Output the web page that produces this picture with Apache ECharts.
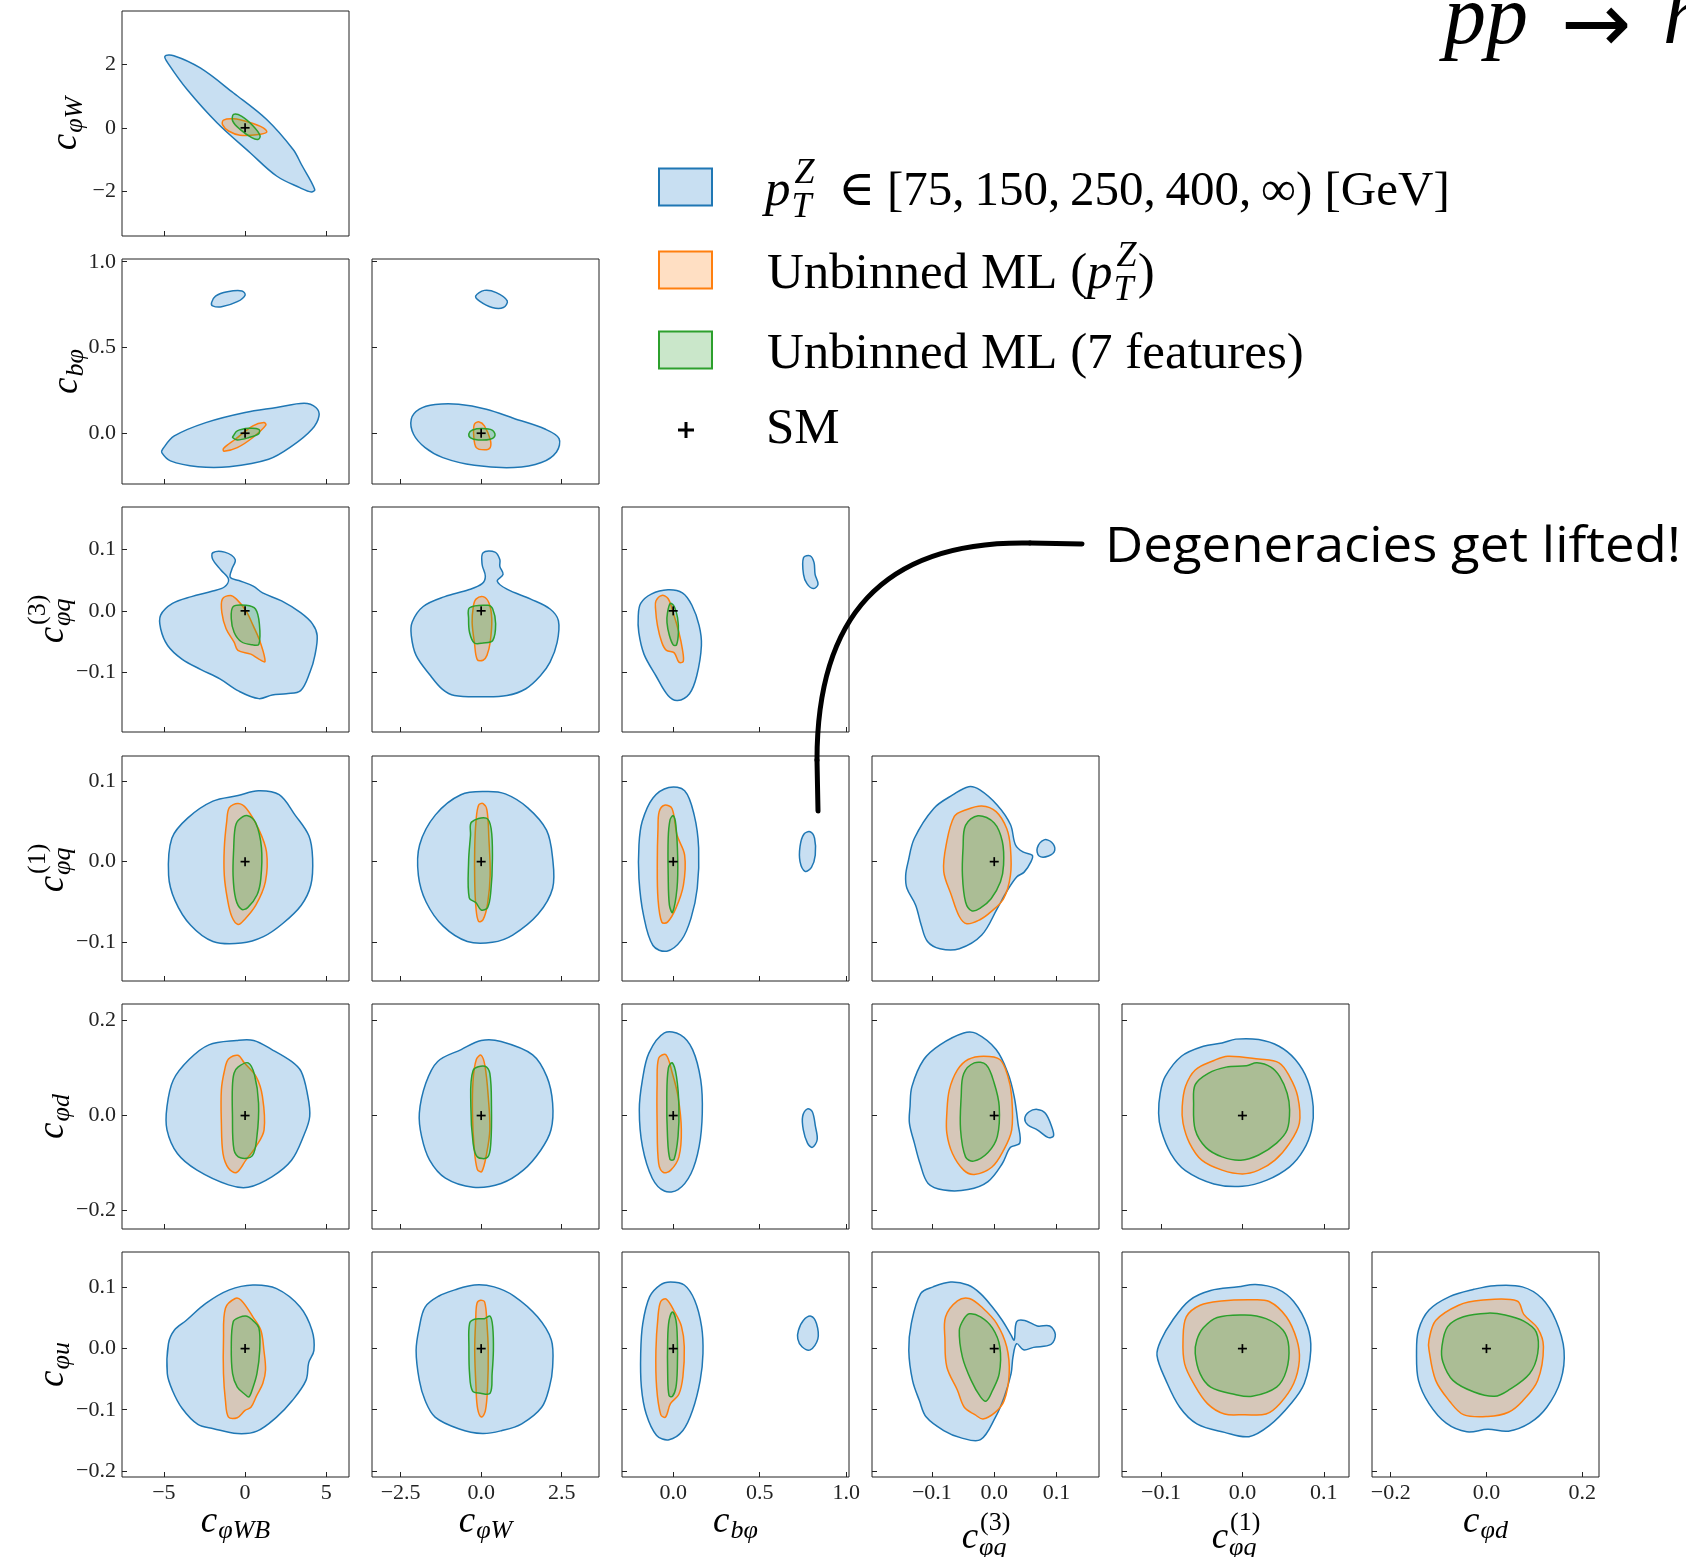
<!DOCTYPE html>
<html>
<head>
<meta charset="utf-8">
<script src="https://cdn.jsdelivr.net/npm/echarts@6/dist/echarts.min.js"></script>
<style>
html, body { margin: 0; padding: 0; background: #fff; }
#chart { width: 1686px; height: 1557px; }
</style>
</head>
<body>
<div id="chart"></div>
<script>
// ---- Wilson coefficients on the axes (columns = x, rows = y) ----
const COL_SUBS = [['φWB', ''], ['φW', ''], ['bφ', ''], ['φq', '(3)'], ['φq', '(1)'], ['φd', '']];
const ROW_SUBS = [['φW', ''], ['bφ', ''], ['φq', '(3)'], ['φq', '(1)'], ['φd', ''], ['φu', '']];

const COL_RANGES = [[-7.58, 6.4], [-3.39, 3.66], [-0.296, 1.016], [-0.196, 0.168], [-0.148, 0.131], [-0.239, 0.235]];
const ROW_RANGES = [[-3.39, 3.66], [-0.296, 1.016], [-0.196, 0.168], [-0.148, 0.131], [-0.239, 0.235], [-0.21, 0.158]];
const COL_TICKS = [[-5, 0, 5], [-2.5, 0, 2.5], [0, 0.5, 1], [-0.1, 0, 0.1], [-0.1, 0, 0.1], [-0.2, 0, 0.2]];
const ROW_TICKS = [[-2, 0, 2], [0, 0.5, 1], [-0.1, 0, 0.1], [-0.1, 0, 0.1], [-0.2, 0, 0.2], [-0.2, -0.1, 0, 0.1]];
const COL_DECIMALS = [0, 1, 1, 1, 1, 1];
const ROW_DECIMALS = [0, 1, 1, 1, 1, 1];

// Standard Model point
const SM_POINT = [0, 0];

// ---- 95% CL contours, one object per pair (x_y); each entry is a list of closed rings ----
const WB_W = {
  blue: [[[-4.94,2.24],[-4.39,2.26],[-2.76,1.875],[-0.71,1.09],[1.33,0.26],[2.96,-0.68],[3.47,-1.15],[4.29,-1.93],[4.08,-2.01],[3.37,-1.875],[1.94,-1.51],[0.31,-0.78],[-1.73,0.16],[-3.57,1.2],[-4.69,1.98]]],
  orange: [[[-1.33,0.24],[-0.71,0.28],[0.2,0.18],[1.12,0],[1.33,-0.14],[0.71,-0.22],[-0.31,-0.23],[-1.02,-0.1],[-1.39,0.1]]],
  green: [[[-0.71,0.42],[-0.2,0.36],[0.51,0.05],[0.92,-0.24],[0.82,-0.36],[0.41,-0.31],[-0.31,-0.05],[-0.76,0.21]]]
};
const WB_B = {
  blue: [[[-5.13,-0.113],[-5.08,-0.093],[-4.36,-0.016],[-2.42,0.062],[0,0.121],[1.94,0.15],[3.63,0.175],[4.36,0.15],[4.55,0.10],[4.12,0.023],[2.9,-0.074],[1.45,-0.152],[-0.97,-0.195],[-2.9,-0.195],[-4.6,-0.161]],
         [[-2.06,0.763],[-1.82,0.80],[-1.09,0.825],[-0.19,0.83],[0,0.805],[-0.48,0.767],[-1.45,0.737],[-2.0,0.743]]],
  orange: [[[-1.33,-0.089],[-0.6,-0.035],[0.48,0.043],[1.16,0.062],[1.28,0.047],[0.48,-0.025],[-0.48,-0.084],[-1.3,-0.105]]],
  green: [[[-0.73,-0.016],[-0.48,0.014],[0.24,0.029],[0.85,0.023],[0.85,-0.002],[0.24,-0.025],[-0.48,-0.039],[-0.77,-0.025]]]
};
const W_B = {
  blue: [[[-2.17,0.082],[-1.92,0.14],[-1.43,0.167],[-0.70,0.169],[0.16,0.14],[1.02,0.086],[2.0,0.023],[2.42,-0.031],[2.34,-0.109],[1.87,-0.171],[1.02,-0.2],[-0.21,-0.187],[-1.19,-0.142],[-1.74,-0.084],[-2.1,-0.006]],
         [[-0.17,0.80],[0.1,0.833],[0.47,0.82],[0.81,0.772],[0.69,0.733],[0.34,0.733],[-0.05,0.77]]],
  orange: [[[-0.21,0.053],[-0.06,0.066],[0.1,0.043],[0.28,-0.035],[0.28,-0.084],[0.1,-0.097],[-0.15,-0.084],[-0.23,-0.016]]],
  green: [[[-0.38,-0.002],[-0.27,0.019],[0.04,0.027],[0.34,0.018],[0.43,-0.012],[0.28,-0.035],[-0.09,-0.039],[-0.33,-0.027]]]
};
const WB_Q3 = {
  blue: [[[-1.99,0.094],[-1.26,0.095],[-0.61,0.083],[-0.82,0.067],[-0.91,0.054],[-0.38,0.049],[0.5,0.040],[1.08,0.029],[2.25,0.016],[3.42,-0.003],[4.15,-0.021],[4.44,-0.040],[4.3,-0.072],[4.0,-0.099],[3.42,-0.129],[2.54,-0.134],[1.67,-0.136],[0.85,-0.142],[-0.38,-0.130],[-1.55,-0.110],[-2.72,-0.095],[-3.89,-0.078],[-4.77,-0.056],[-5.2,-0.029],[-5.2,-0.007],[-4.47,0.012],[-3.3,0.023],[-1.99,0.032],[-1.26,0.039],[-1.02,0.051],[-1.49,0.066],[-1.99,0.083]]],
  orange: [[[-1.4,0.019],[-0.91,0.025],[-0.53,0.019],[0.06,0],[0.5,-0.024],[0.94,-0.051],[1.23,-0.082],[0.85,-0.078],[0.35,-0.070],[-0.44,-0.064],[-0.67,-0.051],[-1.17,-0.029],[-1.43,-0.003]]],
  green: [[[-0.73,0.007],[0.06,0.009],[0.64,0.003],[0.88,-0.021],[0.85,-0.054],[0.44,-0.055],[-0.23,-0.050],[-0.67,-0.035],[-0.85,-0.013]]]
};
const W_Q3 = {
  blue: [[[0.06,0.094],[0.43,0.095],[0.58,0.083],[0.58,0.072],[0.68,0.059],[0.5,0.048],[0.8,0.035],[1.54,0.019],[2.14,0.003],[2.4,-0.016],[2.36,-0.051],[2.14,-0.083],[1.84,-0.105],[1.39,-0.126],[0.8,-0.137],[0.06,-0.139],[-0.83,-0.137],[-1.2,-0.127],[-1.57,-0.105],[-2.02,-0.072],[-2.17,-0.040],[-2.14,-0.018],[-1.8,0.007],[-1.13,0.023],[-0.39,0.034],[0.03,0.044],[0.13,0.056],[0.03,0.075]]],
  orange: [[[-0.16,0.019],[0.06,0.023],[0.24,0.013],[0.33,-0.013],[0.28,-0.051],[0.18,-0.072],[0.06,-0.080],[-0.12,-0.079],[-0.21,-0.051],[-0.28,-0.019],[-0.24,0.008]]],
  green: [[[-0.36,0.005],[0.21,0.009],[0.36,0.003],[0.45,-0.021],[0.36,-0.048],[0.06,-0.052],[-0.21,-0.052],[-0.36,-0.035],[-0.39,-0.013]]]
};
const B_Q3 = {
  blue: [[[-0.202,-0.008],[-0.188,0.012],[-0.127,0.027],[-0.030,0.034],[0.053,0.029],[0.108,0.009],[0.150,-0.024],[0.163,-0.056],[0.136,-0.105],[0.094,-0.134],[0.025,-0.145],[-0.030,-0.137],[-0.100,-0.105],[-0.169,-0.070],[-0.199,-0.035]],
         [[0.753,0.086],[0.792,0.089],[0.814,0.078],[0.820,0.059],[0.837,0.043],[0.809,0.036],[0.773,0.044],[0.753,0.059]]],
  orange: [[[-0.100,0.016],[-0.066,0.025],[-0.030,0.020],[0,-0.003],[0.033,-0.035],[0.053,-0.062],[0.058,-0.082],[0.033,-0.083],[0.006,-0.068],[-0.039,-0.064],[-0.066,-0.051],[-0.091,-0.024],[-0.102,0.003]]],
  green: [[[-0.033,-0.003],[-0.017,0.012],[0.006,0.007],[0.025,-0.011],[0.030,-0.035],[0.019,-0.055],[0,-0.055],[-0.022,-0.040],[-0.036,-0.019]]]
};
const WB_Q1 = {
  blue: [[[-4.71,-0.017],[-4.51,0.029],[-3.54,0.054],[-1.98,0.075],[-0.43,0.082],[0.82,0.088],[2.1,0.083],[3.07,0.058],[3.93,0.032],[4.16,0.004],[4.05,-0.029],[3.46,-0.054],[2.3,-0.077],[1.13,-0.093],[-0.23,-0.101],[-1.98,-0.099],[-3.35,-0.079],[-4.32,-0.048]]],
  orange: [[[-1.13,0.050],[-0.97,0.067],[-0.43,0.072],[0.08,0.066],[0.82,0.041],[1.32,0.012],[1.25,-0.025],[0.66,-0.054],[-0.04,-0.072],[-0.43,-0.078],[-0.82,-0.068],[-1.09,-0.046],[-1.28,-0.017],[-1.28,0.017]]],
  green: [[[-0.62,0.041],[-0.43,0.051],[0.16,0.057],[0.66,0.048],[1.01,0.017],[0.97,-0.021],[0.74,-0.041],[0.16,-0.057],[-0.23,-0.059],[-0.58,-0.046],[-0.74,-0.017],[-0.7,0.017]]]
};
const W_Q1 = {
  blue: [[[-1.95,-0.017],[-1.91,0.021],[-1.42,0.058],[-0.63,0.083],[0.16,0.087],[0.75,0.084],[1.44,0.067],[2.03,0.039],[2.22,0.004],[2.22,-0.033],[1.77,-0.065],[0.98,-0.091],[0.35,-0.100],[-0.43,-0.099],[-1.18,-0.080],[-1.71,-0.050]]],
  orange: [[[-0.16,0.050],[-0.08,0.070],[0.06,0.072],[0.18,0.064],[0.24,0.029],[0.28,-0.017],[0.2,-0.052],[0.06,-0.072],[-0.08,-0.074],[-0.16,-0.058],[-0.2,-0.025],[-0.2,0.017]]],
  green: [[[-0.3,0.049],[0.16,0.054],[0.31,0.041],[0.35,0.004],[0.3,-0.037],[0.2,-0.057],[0,-0.060],[-0.16,-0.051],[-0.37,-0.045],[-0.39,0],[-0.33,0.033]]]
};
const B_Q1 = {
  blue: [[[-0.198,0.021],[-0.179,0.050],[-0.117,0.079],[-0.026,0.092],[0.066,0.088],[0.121,0.058],[0.147,0.017],[0.139,-0.033],[0.103,-0.070],[0.048,-0.097],[-0.037,-0.111],[-0.117,-0.104],[-0.172,-0.066],[-0.198,-0.021]],
         [[0.733,0.019],[0.755,0.034],[0.791,0.037],[0.817,0.029],[0.821,0.008],[0.799,-0.007],[0.762,-0.012],[0.733,0]]],
  orange: [[[-0.081,0.062],[-0.051,0.070],[-0.007,0.066],[0.022,0.033],[0.066,0.008],[0.059,-0.029],[0.015,-0.058],[-0.033,-0.075],[-0.066,-0.075],[-0.088,-0.046],[-0.092,0],[-0.088,0.041]]],
  green: [[[-0.018,0.052],[0,0.057],[0.015,0.046],[0.026,0.004],[0.022,-0.033],[-0.004,-0.063],[-0.022,-0.054],[-0.029,-0.017],[-0.029,0.029]]]
};
const Q3_Q1 = {
  blue: [[[-0.142,-0.017],[-0.138,0],[-0.128,0.029],[-0.097,0.066],[-0.066,0.083],[-0.041,0.093],[-0.023,0.089],[0.005,0.070],[0.026,0.046],[0.034,0.021],[0.046,0.012],[0.061,0.008],[0.059,0],[0.048,-0.013],[0.036,-0.019],[0.020,-0.037],[0.005,-0.058],[-0.020,-0.091],[-0.056,-0.108],[-0.087,-0.108],[-0.107,-0.099],[-0.117,-0.079],[-0.126,-0.054],[-0.140,-0.033]],
         [[0.069,0.017],[0.080,0.027],[0.092,0.024],[0.097,0.014],[0.087,0.007],[0.072,0.007]]],
  orange: [[[-0.081,-0.012],[-0.077,0.021],[-0.064,0.056],[-0.046,0.064],[-0.020,0.069],[0.003,0.062],[0.020,0.041],[0.026,0.017],[0.026,-0.017],[0.015,-0.046],[-0.005,-0.062],[-0.023,-0.072],[-0.044,-0.077],[-0.056,-0.068],[-0.069,-0.041]]],
  green: [[[-0.050,0.017],[-0.046,0.045],[-0.026,0.057],[0,0.048],[0.013,0.025],[0.015,-0.004],[0.010,-0.025],[-0.005,-0.046],[-0.023,-0.058],[-0.036,-0.061],[-0.046,-0.050],[-0.051,-0.017]]]
};
const WB_D = {
  blue: [[[-4.81,0.019],[-4.42,0.075],[-3.45,0.118],[-2.23,0.149],[-0.53,0.158],[0.53,0.158],[1.65,0.139],[2.86,0.114],[3.45,0.093],[3.83,0.047],[3.98,-0.002],[3.59,-0.044],[2.86,-0.094],[1.65,-0.129],[0.19,-0.151],[-1.02,-0.146],[-2.96,-0.115],[-4.17,-0.080],[-4.81,-0.030]]],
  orange: [[[-1.26,0.096],[-1.02,0.119],[-0.44,0.127],[-0.05,0.111],[0.68,0.082],[1.07,0.040],[1.17,-0.030],[0.68,-0.065],[0.05,-0.094],[-0.53,-0.120],[-1.02,-0.111],[-1.36,-0.080],[-1.46,-0.016],[-1.46,0.054]]],
  green: [[[-0.68,0.089],[-0.44,0.102],[0.19,0.111],[0.58,0.086],[0.83,0.026],[0.73,-0.044],[0.44,-0.085],[-0.29,-0.089],[-0.68,-0.073],[-0.78,0.005],[-0.78,0.061]]]
};
const W_D = {
  blue: [[[-1.92,0.005],[-1.72,0.068],[-1.35,0.114],[-0.62,0.139],[0,0.158],[0.62,0.156],[1.6,0.128],[2.04,0.082],[2.22,0.026],[2.17,-0.030],[1.85,-0.073],[1.31,-0.115],[0.62,-0.143],[-0.25,-0.151],[-1.11,-0.132],[-1.6,-0.094],[-1.85,-0.044]]],
  orange: [[[-0.15,0.118],[0,0.127],[0.12,0.104],[0.22,0.040],[0.27,-0.030],[0.17,-0.080],[0.02,-0.118],[-0.12,-0.113],[-0.22,-0.065],[-0.27,0.005],[-0.25,0.075]]],
  green: [[[-0.25,0.095],[0.12,0.104],[0.27,0.089],[0.32,0.019],[0.3,-0.058],[0.2,-0.088],[-0.12,-0.087],[-0.25,-0.058],[-0.32,0.019]]]
};
const B_D = {
  blue: [[[-0.196,0.012],[-0.178,0.075],[-0.140,0.132],[-0.051,0.174],[0.042,0.170],[0.112,0.139],[0.159,0.075],[0.168,0.005],[0.150,-0.065],[0.103,-0.122],[0.028,-0.156],[-0.051,-0.159],[-0.121,-0.132],[-0.178,-0.065]],
         [[0.748,-0.002],[0.776,0.014],[0.804,0.008],[0.822,-0.023],[0.832,-0.051],[0.804,-0.067],[0.776,-0.058],[0.752,-0.030]]],
  orange: [[[-0.084,0.121],[-0.042,0.128],[-0.005,0.089],[0.028,0.040],[0.047,-0.030],[0.033,-0.087],[-0.014,-0.115],[-0.056,-0.120],[-0.084,-0.101],[-0.093,-0.016],[-0.093,0.068]]],
  green: [[[-0.028,0.100],[-0.005,0.111],[0.019,0.082],[0.033,0.019],[0.028,-0.044],[0.005,-0.092],[-0.019,-0.092],[-0.033,-0.044],[-0.037,0.040]]]
};
const Q3_D = {
  blue: [[[-0.136,-0.016],[-0.135,0.019],[-0.132,0.061],[-0.113,0.118],[-0.087,0.149],[-0.049,0.174],[-0.029,0.173],[0.003,0.139],[0.022,0.089],[0.032,0.040],[0.038,-0.016],[0.041,-0.058],[0.026,-0.067],[0.013,-0.101],[-0.010,-0.139],[-0.042,-0.156],[-0.081,-0.157],[-0.106,-0.143],[-0.119,-0.101],[-0.128,-0.058]],
         [[0.049,-0.006],[0.056,0.008],[0.069,0.013],[0.082,0.005],[0.092,-0.023],[0.095,-0.043],[0.086,-0.046],[0.069,-0.030],[0.054,-0.020]]],
  orange: [[[-0.076,0.005],[-0.072,0.054],[-0.059,0.096],[-0.042,0.118],[-0.017,0.125],[0.009,0.118],[0.022,0.082],[0.028,0.040],[0.028,-0.030],[0.015,-0.073],[-0.004,-0.109],[-0.032,-0.124],[-0.049,-0.115],[-0.067,-0.080],[-0.076,-0.037]]],
  green: [[[-0.053,0.040],[-0.049,0.088],[-0.032,0.111],[-0.013,0.107],[0,0.068],[0.008,0.019],[0.005,-0.044],[-0.010,-0.078],[-0.033,-0.096],[-0.046,-0.087],[-0.054,-0.030]]]
};
const Q1_D = {
  blue: [[[-0.103,0.005],[-0.101,0.047],[-0.095,0.082],[-0.075,0.125],[-0.048,0.146],[-0.025,0.153],[-0.008,0.161],[0.020,0.160],[0.045,0.146],[0.065,0.118],[0.080,0.075],[0.087,0.019],[0.085,-0.030],[0.075,-0.073],[0.058,-0.108],[0.030,-0.136],[0,-0.149],[-0.035,-0.144],[-0.070,-0.116],[-0.088,-0.080],[-0.100,-0.030]]],
  orange: [[[-0.074,0.019],[-0.070,0.061],[-0.058,0.096],[-0.035,0.116],[-0.018,0.125],[0.020,0.119],[0.045,0.111],[0.058,0.082],[0.068,0.040],[0.070,-0.016],[0.058,-0.058],[0.040,-0.094],[0.020,-0.115],[0,-0.123],[-0.025,-0.115],[-0.050,-0.094],[-0.065,-0.058],[-0.073,-0.016]]],
  green: [[[-0.060,0.026],[-0.058,0.065],[-0.042,0.089],[-0.020,0.102],[0.005,0.105],[0.018,0.111],[0.035,0.102],[0.046,0.082],[0.055,0.047],[0.058,0.012],[0.055,-0.030],[0.042,-0.058],[0.020,-0.083],[-0.002,-0.094],[-0.025,-0.087],[-0.045,-0.067],[-0.058,-0.030]]]
};
const WB_U = {
  blue: [[[-4.79,-0.041],[-4.72,0.008],[-4.36,0.030],[-3.63,0.046],[-2.42,0.074],[-0.97,0.096],[0.48,0.104],[1.94,0.098],[3.39,0.068],[4.12,0.030],[4.24,-0.003],[3.92,-0.023],[3.75,-0.052],[2.91,-0.085],[1.94,-0.112],[0.73,-0.135],[-0.48,-0.139],[-1.94,-0.131],[-2.91,-0.124],[-3.87,-0.098],[-4.48,-0.068]]],
  orange: [[[-1.33,0.014],[-1.21,0.066],[-0.61,0.082],[-0.24,0.079],[0.48,0.052],[0.97,0.030],[1.16,-0.003],[1.26,-0.035],[1.09,-0.057],[0.73,-0.076],[0.36,-0.096],[0,-0.101],[-0.48,-0.113],[-1.02,-0.112],[-1.21,-0.085],[-1.33,-0.041]]],
  green: [[[-0.85,0.003],[-0.73,0.044],[-0.36,0.051],[0.12,0.053],[0.48,0.046],[0.85,0.034],[0.9,-0.003],[0.73,-0.041],[0.48,-0.064],[0.24,-0.079],[0,-0.075],[-0.48,-0.063],[-0.77,-0.041]]]
};
const W_U = {
  blue: [[[-2.02,-0.003],[-1.92,0.035],[-1.74,0.068],[-1.31,0.086],[-0.82,0.096],[-0.21,0.104],[0.40,0.101],[1.02,0.086],[1.75,0.052],[2.18,0.014],[2.22,-0.030],[2.12,-0.063],[1.88,-0.096],[1.26,-0.123],[0.65,-0.134],[0.04,-0.139],[-0.7,-0.131],[-1.43,-0.112],[-1.74,-0.085],[-1.92,-0.052]]],
  orange: [[[-0.17,0.046],[-0.13,0.074],[-0.02,0.079],[0.11,0.076],[0.18,0.041],[0.22,-0.003],[0.2,-0.063],[0.13,-0.102],[0.01,-0.112],[-0.11,-0.098],[-0.16,-0.063],[-0.2,-0.003]]],
  green: [[[-0.36,0.041],[-0.21,0.048],[0.1,0.049],[0.28,0.053],[0.36,0.035],[0.38,-0.003],[0.34,-0.041],[0.28,-0.073],[-0.02,-0.073],[-0.27,-0.069],[-0.36,-0.041],[-0.38,0.003]]]
};
const B_U = {
  blue: [[[-0.188,-0.008],[-0.176,0.041],[-0.136,0.085],[-0.076,0.104],[-0.016,0.109],[0.064,0.104],[0.124,0.079],[0.164,0.036],[0.172,-0.008],[0.156,-0.052],[0.112,-0.101],[0.056,-0.134],[-0.024,-0.149],[-0.096,-0.142],[-0.156,-0.107],[-0.184,-0.063]],
         [[0.724,0.030],[0.752,0.046],[0.796,0.053],[0.828,0.041],[0.836,0.016],[0.792,-0.002],[0.744,0.003],[0.72,0.016]]],
  orange: [[[-0.088,0.052],[-0.072,0.077],[-0.040,0.081],[0.008,0.060],[0.048,0.036],[0.064,0.003],[0.056,-0.046],[0.032,-0.075],[-0.016,-0.090],[-0.044,-0.112],[-0.072,-0.108],[-0.096,-0.063],[-0.1,-0.003]]],
  green: [[[-0.024,0.046],[-0.004,0.060],[0.016,0.046],[0.024,0.014],[0.024,-0.030],[0.016,-0.063],[-0.004,-0.078],[-0.024,-0.077],[-0.032,-0.041],[-0.032,0.014]]]
};
const Q3_U = {
  blue: [[[-0.137,-0.003],[-0.133,0.041],[-0.118,0.090],[-0.098,0.101],[-0.070,0.109],[-0.042,0.104],[-0.022,0.090],[-0.003,0.068],[0.013,0.046],[0.027,0.022],[0.032,0.014],[0.036,0.044],[0.049,0.046],[0.069,0.037],[0.089,0.037],[0.098,0.023],[0.091,0.007],[0.063,0.002],[0.047,-0.002],[0.036,0.008],[0.030,-0.014],[0.027,-0.041],[0.016,-0.079],[0.002,-0.112],[-0.022,-0.149],[-0.053,-0.146],[-0.081,-0.134],[-0.109,-0.112],[-0.120,-0.085],[-0.131,-0.052]]],
  orange: [[[-0.079,0.014],[-0.078,0.052],[-0.059,0.078],[-0.040,0.082],[-0.018,0.066],[0.004,0.041],[0.020,0.003],[0.024,-0.041],[0.016,-0.085],[0.002,-0.104],[-0.018,-0.115],[-0.031,-0.108],[-0.048,-0.096],[-0.059,-0.068],[-0.076,-0.030]]],
  green: [[[-0.056,0.030],[-0.049,0.048],[-0.040,0.057],[-0.022,0.052],[-0.003,0.034],[0.009,0.003],[0.008,-0.041],[-0.003,-0.069],[-0.013,-0.086],[-0.022,-0.079],[-0.037,-0.052],[-0.051,-0.014]]]
};
const Q1_U = {
  blue: [[[-0.105,-0.011],[-0.100,0.014],[-0.086,0.046],[-0.065,0.079],[-0.039,0.095],[-0.005,0.101],[0.016,0.105],[0.042,0.098],[0.063,0.077],[0.080,0.036],[0.084,-0.003],[0.076,-0.057],[0.059,-0.091],[0.033,-0.126],[0.008,-0.144],[-0.022,-0.137],[-0.056,-0.123],[-0.077,-0.096],[-0.094,-0.052]]],
  orange: [[[-0.073,0.014],[-0.069,0.052],[-0.052,0.071],[-0.026,0.078],[0.012,0.080],[0.033,0.077],[0.054,0.052],[0.067,0.014],[0.070,-0.019],[0.063,-0.057],[0.046,-0.090],[0.029,-0.107],[0.003,-0.108],[-0.022,-0.107],[-0.043,-0.090],[-0.060,-0.057],[-0.071,-0.025]]],
  green: [[[-0.058,-0.008],[-0.056,0.014],[-0.048,0.034],[-0.031,0.051],[0.003,0.055],[0.029,0.049],[0.050,0.030],[0.057,0.003],[0.054,-0.036],[0.042,-0.063],[0.012,-0.078],[-0.009,-0.075],[-0.039,-0.063],[-0.052,-0.041]]]
};
const D_U = {
  blue: [[[-0.146,-0.008],[-0.142,0.030],[-0.120,0.063],[-0.077,0.085],[-0.026,0.097],[0.017,0.103],[0.075,0.101],[0.116,0.082],[0.145,0.046],[0.162,-0.003],[0.155,-0.052],[0.126,-0.096],[0.090,-0.122],[0.046,-0.135],[0.003,-0.132],[-0.041,-0.136],[-0.084,-0.122],[-0.120,-0.090],[-0.142,-0.052]]],
  orange: [[[-0.120,0.014],[-0.106,0.046],[-0.058,0.071],[-0.012,0.079],[0.064,0.078],[0.078,0.056],[0.107,0.033],[0.119,0.003],[0.107,-0.052],[0.075,-0.086],[0.046,-0.104],[0.003,-0.111],[-0.048,-0.108],[-0.077,-0.086],[-0.106,-0.052],[-0.120,-0.002]]],
  green: [[[-0.093,0.003],[-0.081,0.036],[-0.048,0.052],[0.003,0.058],[0.039,0.055],[0.078,0.045],[0.104,0.027],[0.107,-0.008],[0.090,-0.041],[0.046,-0.068],[0.017,-0.078],[-0.026,-0.071],[-0.070,-0.052],[-0.091,-0.022]]]
};

// lower-triangle arrangement: PANELS[row][col]
const PANELS = [
  [WB_W],
  [WB_B, W_B],
  [WB_Q3, W_Q3, B_Q3],
  [WB_Q1, W_Q1, B_Q1, Q3_Q1],
  [WB_D, W_D, B_D, Q3_D, Q1_D],
  [WB_U, W_U, B_U, Q3_U, Q1_U, D_U]
];

const LEGEND_LABELS = ['[75,\u2009150,\u2009250,\u2009400,\u2009∞) [GeV]', 'Unbinned ML (', 'Unbinned ML (7 features)', 'SM'];
const ANNOTATION = 'Degeneracies get lifted!';

// ---------------- styling ----------------
const SERIF = '"Liberation Serif", "DejaVu Serif", serif';
const STYLES = {
  blue:   { fill: 'rgba(34,128,205,0.25)', stroke: '#1f77b4' },
  orange: { fill: 'rgba(255,127,14,0.25)', stroke: '#ff7f0e' },
  green:  { fill: 'rgba(44,160,44,0.25)',  stroke: '#2ca02c' }
};
const GRID_LEFT0 = 122, GRID_DX = 250, GRID_TOP0 = 11, GRID_DY = 248.2, GRID_W = 227, GRID_H = 225;

const measureCtx = document.createElement('canvas').getContext('2d');
function textWidth(text, font) { measureCtx.font = font; return measureCtx.measureText(text).width; }
function midOffset(font, size) {
  measureCtx.font = font;
  measureCtx.textBaseline = 'middle';
  const a = measureCtx.measureText('x').alphabeticBaseline;
  measureCtx.textBaseline = 'alphabetic';
  if (typeof a === 'number' && isFinite(a) && Math.abs(a) > 0.1 * size) return Math.abs(a);
  return 0.33 * size;
}
function fontOf(style, size) { return `${style} ${size}px ${SERIF}`; }
// text element positioned by its alphabetic baseline
function textAt(text, x, baseline, font, size, fill) {
  return {
    type: 'text', x: x, y: baseline - midOffset(font, size),
    style: { text: text, font: font, fill: fill || '#000', align: 'left', verticalAlign: 'middle',
             textAlign: 'left', textVerticalAlign: 'middle' }
  };
}
// c_{sub}^{sup} centred on x = 0, baseline at y = 0
function coeffLabel(sub, sup, fs) {
  const fsS = Math.round(fs * 0.7);
  const fMain = fontOf('italic', fs), fSub = fontOf('italic', fsS), fSup = fontOf('normal', fsS);
  const wc = textWidth('c', fMain), ws = textWidth(sub, fSub), wp = sup ? textWidth(sup, fSup) : 0;
  const x0 = -(wc + 1 + Math.max(ws, wp)) / 2;
  const out = [textAt('c', x0, 0, fMain, fs)];
  out.push(textAt(sub, x0 + wc + 1, sup ? 0.2 * fs : 0.16 * fs, fSub, fsS));
  if (sup) out.push(textAt(sup, x0 + wc + 2, -0.48 * fs, fSup, fsS));
  return out;
}
function fmt(v, d) {
  const s = Math.abs(v).toFixed(d);
  return (v < -1e-9 ? '\u2212' : '') + s;
}

// ---------------- panels ----------------
const grids = [], xAxes = [], yAxes = [], series = [];
let gi = 0;
for (let r = 0; r < PANELS.length; r++) {
  for (let c = 0; c <= r; c++) {
    const panel = PANELS[r][c];
    grids.push({
      left: GRID_LEFT0 + GRID_DX * c, top: Math.round(GRID_TOP0 + GRID_DY * r),
      width: GRID_W, height: GRID_H, show: true, borderColor: '#222', borderWidth: 1
    });
    xAxes.push({
      type: 'value', gridIndex: gi, min: COL_RANGES[c][0], max: COL_RANGES[c][1], position: 'bottom',
      axisLine: { show: false, onZero: false }, splitLine: { show: false },
      axisTick: { show: true, inside: true, length: 5, customValues: COL_TICKS[c], lineStyle: { color: '#222', width: 1 } },
      axisLabel: { show: r === PANELS.length - 1, customValues: COL_TICKS[c], margin: 5,
                   formatter: (v) => fmt(v, COL_DECIMALS[c]), color: '#222', fontFamily: SERIF, fontSize: 22 }
    });
    yAxes.push({
      type: 'value', gridIndex: gi, min: ROW_RANGES[r][0], max: ROW_RANGES[r][1], position: 'left',
      axisLine: { show: false, onZero: false }, splitLine: { show: false },
      axisTick: { show: true, inside: true, length: 5, customValues: ROW_TICKS[r], lineStyle: { color: '#222', width: 1 } },
      axisLabel: { show: c === 0, customValues: ROW_TICKS[r], margin: 6,
                   formatter: (v) => fmt(v, ROW_DECIMALS[r]), color: '#222', fontFamily: SERIF, fontSize: 22 }
    });
    const rings = [];
    ['blue', 'orange', 'green'].forEach((k) => panel[k].forEach((pts) => rings.push({ pts: pts, style: STYLES[k] })));
    series.push({
      type: 'custom', xAxisIndex: gi, yAxisIndex: gi, silent: true, clip: true, z: 2,
      data: rings.map((rg) => rg.pts[0]),
      renderItem: (params, api) => {
        const rg = rings[params.dataIndex];
        return {
          type: 'polygon',
          shape: { points: rg.pts.map((p) => api.coord(p)), smooth: 0.35 },
          style: { fill: rg.style.fill, stroke: rg.style.stroke, lineWidth: 1.5 }
        };
      }
    });
    series.push({
      type: 'custom', xAxisIndex: gi, yAxisIndex: gi, silent: true, z: 3,
      data: [SM_POINT],
      renderItem: (params, api) => {
        const p = api.coord([api.value(0), api.value(1)]);
        const h = 4.5;
        return {
          type: 'group', children: [
            { type: 'line', shape: { x1: p[0] - h, y1: p[1], x2: p[0] + h, y2: p[1] }, style: { stroke: '#000', lineWidth: 1.7 } },
            { type: 'line', shape: { x1: p[0], y1: p[1] - h, x2: p[0], y2: p[1] + h }, style: { stroke: '#000', lineWidth: 1.7 } }
          ]
        };
      }
    });
    gi++;
  }
}

// ---------------- axis titles ----------------
const graphics = [];
const AX_FS = 37;
COL_SUBS.forEach((s, c) => {
  graphics.push({
    type: 'group', x: GRID_LEFT0 + GRID_DX * c + GRID_W / 2, y: s[1] ? 1548 : 1532,
    children: coeffLabel(s[0], s[1], AX_FS)
  });
});
const ROW_TITLE_X = [76, 77, 63, 63, 63, 63];
ROW_SUBS.forEach((s, r) => {
  graphics.push({
    type: 'group', x: ROW_TITLE_X[r], y: Math.round(GRID_TOP0 + GRID_DY * r) + GRID_H / 2,
    rotation: Math.PI / 2,
    children: coeffLabel(s[0], s[1], AX_FS)
  });
});

// ---------------- legend ----------------
const LG_FS = 51, LG_FS_S = 36;
const fLg = fontOf('normal', LG_FS), fLgI = fontOf('italic', LG_FS), fLgS = fontOf('italic', LG_FS_S);
function ptz(x, base) {
  // p_T^Z
  const out = [textAt('p', x, base, fLgI, LG_FS)];
  const xs = x + textWidth('p', fLgI) + 1;
  out.push(textAt('T', xs, base + 12, fLgS, LG_FS_S));
  out.push(textAt('Z', xs + 3, base - 22, fLgS, LG_FS_S));
  return { els: out, end: xs + Math.max(textWidth('T', fLgS), textWidth('Z', fLgS) + 3) };
}
const LG_X = 765;
const LG_BASE = [205, 288, 368, 443];
const LG_PATCH = ['blue', 'orange', 'green'];
LG_PATCH.forEach((k, i) => {
  const cy = LG_BASE[i] - 18;
  graphics.push({ type: 'rect', shape: { x: 659, y: cy - 18.5, width: 53, height: 37 },
                  style: { fill: STYLES[k].fill, stroke: STYLES[k].stroke, lineWidth: 2 } });
});
// SM marker
graphics.push({ type: 'line', shape: { x1: 678, y1: 430, x2: 694, y2: 430 }, style: { stroke: '#000', lineWidth: 3 } });
graphics.push({ type: 'line', shape: { x1: 686, y1: 422, x2: 686, y2: 438 }, style: { stroke: '#000', lineWidth: 3 } });
// row 1
(() => {
  const p = ptz(LG_X, LG_BASE[0]);
  p.els.forEach((e) => graphics.push(e));
  const fIn = `normal 50px "DejaVu Serif", serif`;
  graphics.push(textAt('∈', 838, LG_BASE[0], fIn, 50));
  const fRow1 = fontOf('normal', 49);
  graphics.push(textAt(LEGEND_LABELS[0], 887, LG_BASE[0], fRow1, 49));
})();
// row 2
(() => {
  graphics.push(textAt(LEGEND_LABELS[1], LG_X + 2, LG_BASE[1], fLg, LG_FS));
  const x = LG_X + 2 + textWidth(LEGEND_LABELS[1], fLg);
  const p = ptz(x, LG_BASE[1]);
  p.els.forEach((e) => graphics.push(e));
  graphics.push(textAt(')', p.end + 1, LG_BASE[1], fLg, LG_FS));
})();
graphics.push(textAt(LEGEND_LABELS[2], LG_X + 2, LG_BASE[2], fLg, LG_FS));
graphics.push(textAt(LEGEND_LABELS[3], LG_X + 1, LG_BASE[3], fLg, LG_FS));

// ---------------- process title (runs off the right edge) ----------------
const T_FS = 84;
graphics.push(textAt('pp', 1444, 43, fontOf('italic', T_FS), T_FS));
graphics.push(textAt('→', 1561, 52, `normal ${T_FS}px "DejaVu Sans", sans-serif`, T_FS));
graphics.push(textAt('hZ', 1663, 43, fontOf('italic', T_FS), T_FS));

// ---------------- annotation ----------------
const fAnn = '50px "Open Sans", Lato, sans-serif';
const annText = textAt(ANNOTATION, 1105, 562, fAnn, 50);
annText.scaleX = 1.055;
graphics.push(annText);
const CURVE = { stroke: '#000', lineWidth: 5, lineCap: 'round', fill: null };
graphics.push({ type: 'line', z: 10, shape: { x1: 1082, y1: 544, x2: 1030, y2: 543 }, style: CURVE });
graphics.push({ type: 'bezierCurve', z: 10,
  shape: { x1: 1030, y1: 543, cpx1: 880, cpy1: 540, cpx2: 817, cpy2: 620, x2: 817, y2: 760 }, style: CURVE });
graphics.push({ type: 'line', z: 10, shape: { x1: 817, y1: 760, x2: 818, y2: 811 }, style: CURVE });

const chart = echarts.init(document.getElementById('chart'), null, { renderer: 'canvas' });
chart.setOption({
  animation: false,
  backgroundColor: '#fff',
  grid: grids,
  xAxis: xAxes,
  yAxis: yAxes,
  series: series,
  graphic: { elements: graphics }
});
</script>
</body>
</html>
